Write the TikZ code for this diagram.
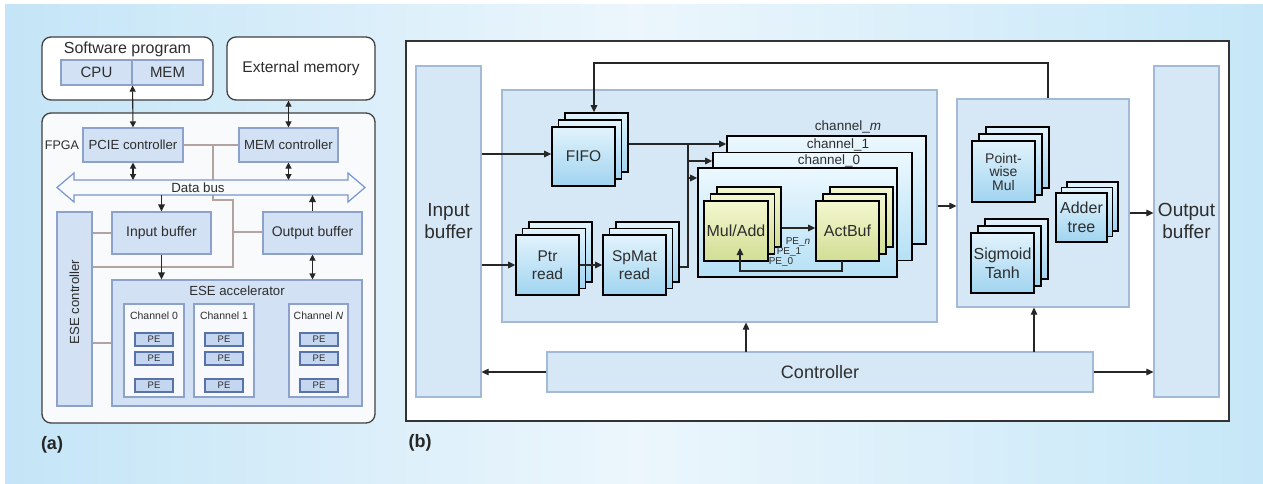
\documentclass[tikz,border=0pt]{standalone}
\usepackage{fontspec}
\setmainfont{Liberation Sans}
\usetikzlibrary{arrows.meta}
\definecolor{txt}{RGB}{45,45,45}
\definecolor{bgL}{RGB}{196,229,247}
\definecolor{bgM}{RGB}{236,246,252}
\definecolor{bgR}{RGB}{198,231,248}
\definecolor{lbfill}{RGB}{210,226,244}
\definecolor{lbdraw}{RGB}{140,162,202}
\definecolor{pefill}{RGB}{196,214,240}
\definecolor{pedraw}{RGB}{88,115,170}
\definecolor{bfill}{RGB}{214,231,246}
\definecolor{bdraw}{RGB}{162,186,214}
\definecolor{modtop}{RGB}{226,243,252}
\definecolor{modbot}{RGB}{160,212,240}
\definecolor{chtop}{RGB}{236,248,254}
\definecolor{chbot}{RGB}{182,224,245}
\definecolor{ygtop}{RGB}{244,247,208}
\definecolor{ygbot}{RGB}{210,222,148}
\definecolor{grayln}{RGB}{178,162,160}
\definecolor{busdraw}{RGB}{120,150,205}
\definecolor{fpgafill}{RGB}{248,250,252}
\definecolor{chfill}{RGB}{247,249,252}
\newcommand\bx[7][]{\node[#1, inner sep=0pt, minimum width={(#5)-(#3)}, minimum height={(#6)-(#4)}, align=center] (#2) at ({((#3)+(#5))/2},{((#4)+(#6))/2}) {#7};}
\newcommand\stk[9][]{%
 \node[#1, minimum width=#5, minimum height=#6] (#2c) at ({#3+2*(#7)},{#4-2*(#8)}) {};
 \node[#1, minimum width=#5, minimum height=#6] (#2b) at ({#3+#7},{#4-#8}) {};
 \node[#1, minimum width=#5, minimum height=#6, align=center] (#2) at (#3,#4) {#9};}
\tikzset{
 fs/.style args={#1/#2}{font=\fontsize{#1}{#2}\selectfont},
 outerbox/.style={draw=black!75, line width=1.3pt, fill=white, rounded corners=9pt},
 abox/.style={draw=lbdraw, line width=1.1pt, fill=lbfill, text=txt},
 chbox/.style={draw=lbdraw, line width=1.1pt, fill=chfill},
 pebox/.style={draw=pedraw, line width=1.1pt, fill=pefill, minimum width=38pt, minimum height=13pt, inner sep=0pt, fs=9.5/11, text=txt},
 bbox/.style={draw=bdraw, line width=1.2pt, fill=bfill},
 modbox/.style={draw=black, line width=1.6pt, top color=modtop, bottom color=modbot, inner sep=0pt, text=txt},
 ygbox/.style={draw=black, line width=1.6pt, top color=ygtop, bottom color=ygbot, inner sep=0pt, text=txt},
 chanbox/.style={draw=black, line width=1.6pt, top color=chtop, bottom color=chbot, inner sep=0pt},
 lbl/.style={text=txt, inner sep=0pt},
 panlbl/.style={text=black!85, inner sep=0pt, font={\fontsize{18}{20}\selectfont\bfseries}},
 arr/.style={-{Triangle[length=7pt,width=6.5pt]}, line width=1.1pt, draw=black!85},
 darr/.style={{Triangle[length=6pt,width=6pt]}-{Triangle[length=6pt,width=6pt]}, line width=1.1pt, draw=black!85},
 gline/.style={draw=grayln, line width=1.4pt},
}
\begin{document}
\begin{tikzpicture}[x=1pt,y=-1pt]
\useasboundingbox (0,0) rectangle (1263,484);
\fill[white] (0,0) rectangle (1263,484);
\shade[left color=bgL, right color=bgR, middle color=bgM] (5,5) rectangle (1263,484);

% ---------------- panel (a) ----------------
\bx[outerbox]{swprog}{42}{37}{213}{100}{}
\node[lbl, fs=16/18] (swlbl) at (127.5,49) {Software program};
\bx[abox, fs=15/18]{cpu}{61}{60}{132}{85}{CPU}
\bx[abox, fs=15/18]{mem}{132}{60}{203}{85}{MEM}
\bx[outerbox, text=txt, fs=15.5/18]{extmem}{227}{37}{375}{100}{External memory}
\bx[outerbox, fill=fpgafill]{fpga}{42}{113}{375}{423}{}
\node[lbl, fs=12.5/14] (fpgalbl) at (62,145) {FPGA};
\bx[abox, fs=13.2/15]{pcie}{83}{128}{183}{162}{PCIE controller}
\bx[abox, fs=13.2/15]{memc}{239}{128}{338}{162}{MEM controller}
\bx[abox, fs=14/16]{inbuf}{112}{212}{211}{254}{Input buffer}
\bx[abox, fs=14/16]{outbuf}{263}{212}{362}{254}{Output buffer}
\bx[abox]{esectl}{57}{212}{92}{406}{}
\node[lbl, fs=13.2/15, rotate=90] (esectllbl) at (74.5,302) {ESE controller};
\bx[abox]{eseacc}{112}{280}{362}{406}{}
\node[lbl, fs=13.2/15] (eseacclbl) at (237,291) {ESE accelerator};
\bx[chbox]{ch0a}{124}{304}{184}{397}{}
\bx[chbox]{ch1a}{194}{304}{254}{397}{}
\bx[chbox]{chNa}{289}{304}{348}{397}{}
\node[lbl, fs=10.5/12] (ch0lbl) at (154,316) {Channel 0};
\node[lbl, fs=10.5/12] (ch1lbl) at (224,316) {Channel 1};
\node[lbl, fs=10.5/12] (chNlbl) at (318.5,316) {Channel \textit{N}};
\foreach \cx/\nm in {154/a,224/b,319/c}{
  \node[pebox] (pe\nm1) at (\cx,339.5) {PE};
  \node[pebox] (pe\nm2) at (\cx,358.5) {PE};
  \node[pebox] (pe\nm3) at (\cx,385.5) {PE};
}
% grey links
\draw[gline] (pcie.east) -- (memc.west);
\draw[gline] (213,145) -- (213,200) -- (233,200) -- (233,267) -- (esectl.east |- 0,267);
\draw[gline] (233,232) -- (outbuf.west |- 0,232);
\draw[gline] (esectl.east |- 0,233) -- (inbuf.west |- 0,233);
\draw[gline] (esectl.east |- 0,343) -- (eseacc.west |- 0,343);
% data bus
\draw[draw=busdraw, line width=1.2pt, fill=fpgafill] (57,187.5) -- (74,173) -- (74,180) -- (348,180) -- (348,173) -- (365,187.5) -- (348,202) -- (348,195) -- (74,195) -- (74,202) -- cycle;
\node[lbl, fs=13.3/15] (bus) at (198,187.5) {Data bus};
\coordinate (busT1) at (133,180);
\coordinate (busT2) at (288.5,180);
\coordinate (busB1) at (161.5,195);
\coordinate (busB2) at (312.5,195);
% arrows (a)
\draw[darr] (cpu.south east) -- (pcie.north);
\draw[darr] (extmem.south -| memc.north) -- (memc.north);
\draw[darr] (pcie.south) -- (busT1);
\draw[darr] (memc.south) -- (busT2);
\draw[arr] (busB1) -- (inbuf.north);
\draw[arr] (outbuf.north) -- (busB2);
\draw[arr] (inbuf.south) -- (eseacc.north -| inbuf.south);
\draw[darr] (outbuf.south) -- (eseacc.north -| outbuf.south);
\node[panlbl] (alab) at (52,445) {(a)};

% ---------------- panel (b) ----------------
\bx[draw=black!80, line width=1.3pt, fill=white]{frameb}{406}{41}{1229}{421}{}
\bx[bbox]{binbuf}{416}{66}{481}{397}{}
\node[lbl, fs=19/22, align=center] (binlbl) at (448.5,221) {Input\\buffer};
\bx[bbox]{boutbuf}{1154}{66}{1219}{397}{}
\node[lbl, fs=19/22, align=center] (boutlbl) at (1186.5,221) {Output\\buffer};
\bx[bbox]{enc}{502}{90}{937}{322}{}
\bx[bbox]{act}{957}{99}{1129}{307}{}
\bx[bbox, fs=18/20, text=txt]{ctrl}{547}{352}{1093}{392}{Controller}

\stk[modbox, fs=15.5/18]{fifo}{583.5}{156.5}{63}{59}{6.5}{7}{FIFO}
\stk[modbox, fs=15.5/18]{ptr}{547.5}{265}{63}{60}{6.5}{6.5}{Ptr\\read}
\stk[modbox, fs=15.5/18]{spmat}{634.5}{265}{63}{60}{6.5}{6.5}{SpMat\\read}

% channel stack
\node[chanbox, minimum width=199, minimum height=108] (chm) at (826.5,190) {};
\node[chanbox, minimum width=199, minimum height=108] (ch1) at (812.5,206.5) {};
\node[chanbox, minimum width=199, minimum height=109] (ch0) at (797.5,222.5) {};
\node[lbl, fs=13.5/15] (chmlbl) at (848,127) {channel\_\textit{m}};
\node[lbl, fs=13.5/15] (ch1lbl2) at (838,145) {channel\_1};
\node[lbl, fs=13.5/15] (ch0lbl2) at (829,161) {channel\_0};

\stk[ygbox, fs=16/18]{mul}{736}{231}{64}{60}{6.5}{7}{Mul/Add}
\stk[ygbox, fs=16/18]{actbuf}{847.5}{231}{63}{60}{7}{7}{ActBuf}
\node[lbl, fs=10/11] (pen) at (798,242) {PE\_\textit{n}};
\node[lbl, fs=10/11] (pe1) at (789,252) {PE\_1};
\node[lbl, fs=10/11] (pe0) at (781,262.5) {PE\_0};

\stk[modbox, fs=14/13.5]{pmul}{1003.5}{171.5}{63}{61}{7}{7}{Point-\\wise\\Mul}
\stk[modbox, fs=16/19]{sig}{1002.5}{263}{63}{60}{7}{7}{Sigmoid\\Tanh}
\stk[modbox, fs=16/19]{adder}{1081.5}{217.5}{51}{49}{5.5}{5.5}{Adder\\tree}

% connectors (b)
\coordinate (j1) at (688,144);
\coordinate (j2) at (688,267);
\coordinate (j3) at (688,161);
\coordinate (j4) at (688,178);
\draw[arr] (act.north -| 1048,0) -- (1048,63) -- (594,63) -- (fifoc.north -| 594,0);
\draw[arr] (binbuf.east |- 0,154) -- (fifo.west |- 0,154);
\draw[arr] (binbuf.east |- ptr.west) -- (ptr.west);
\draw[arr] (ptr.east) -- (spmat.west);
\draw[line width=1.1pt, draw=black!85] (spmatc.east |- j2) -- (j2) -- (j1);
\draw[arr] (fifoc.east |- j1) -- (chm.west |- j1);
\draw[arr] (j3) -- (ch1.west |- j3);
\draw[arr] (j4) -- (ch0.west |- j4);
\draw[arr] (mulc.east |- 0,228) -- (actbuf.west |- 0,228);
\draw[arr] (842,261) -- (842,271) -- (740,271) -- (740,248);
\draw[arr] (enc.east |- 0,206) -- (act.west |- 0,206);
\draw[arr] (act.east |- 0,213) -- (boutbuf.west |- 0,213);
\draw[arr] (ctrl.west) -- (binbuf.east |- ctrl.west);
\draw[arr] (ctrl.east) -- (boutbuf.west |- ctrl.east);
\coordinate (cx1) at (746,352);
\coordinate (cx2) at (1034,352);
\draw[arr] (cx1) -- (enc.south -| cx1);
\draw[arr] (cx2) -- (act.south -| cx2);
\node[panlbl] (blab) at (420,443) {(b)};
\end{tikzpicture}
\end{document}
